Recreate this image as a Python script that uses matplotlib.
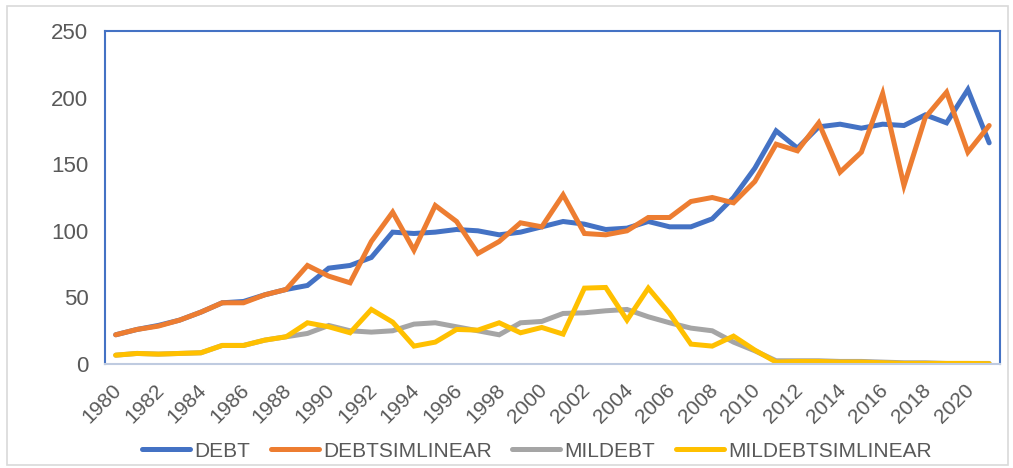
import matplotlib.pyplot as plt
import matplotlib.patches as patches
import matplotlib.transforms as mtransforms
import numpy as np

plt.rcParams['font.family'] = ['Liberation Sans', 'DejaVu Sans']

years = list(range(1980, 2022))

debt = [22, 26, 29, 33, 39, 46, 47, 52, 56, 59, 72, 74, 80, 99, 98, 99,
        101, 100, 97, 99, 103, 107, 105, 101, 102, 107, 103, 103, 109, 125,
        147, 175, 162, 178, 180, 177, 180, 179, 187, 181, 206, 166]
debtsimlinear = [22, 26, 28.5, 33, 39, 46, 46, 52, 56, 74, 66, 61, 92, 114,
                 85.5, 119, 107, 83, 92, 106, 103, 127, 98, 97, 100, 110,
                 110, 122, 125, 121, 137, 165, 160, 181, 144, 159, 203, 134,
                 185, 204, 159, 179]
mildebt = [6.7, 8, 7.5, 8, 8.5, 14, 14, 18, 20.5, 23, 29, 25, 24, 25, 30, 31,
           28, 25, 22, 31, 32, 38, 38.5, 40, 41, 35.5, 31, 27, 25, 16.5,
           10, 2.5, 2.5, 2.5, 2, 2, 1.5, 1, 1, 0.5, 0.5, 0.5]
mildebtsimlinear = [6.7, 8, 7.5, 8, 8.5, 14, 14, 18, 20.5, 31, 28, 23.5, 41,
                    31.5, 13.5, 16.5, 26, 25.5, 31, 23.5, 27.5, 22.5, 57,
                    57.5, 33, 57, 38, 15, 13.5, 21, 10.5, 1.5, 2, 2, 1.5, 1.5,
                    1, 0.5, 0.5, 0.5, 0.5, 0.3]

series = [
    ('DEBT', debt, '#4472C4'),
    ('DEBTSIMLINEAR', debtsimlinear, '#ED7D31'),
    ('MILDEBT', mildebt, '#A5A5A5'),
    ('MILDEBTSIMLINEAR', mildebtsimlinear, '#FFC000'),
]

fig = plt.figure(figsize=(10.13, 4.68), dpi=100)
ax = fig.add_axes([0.1037, 0.222, 0.8833, 0.712])

x = np.arange(len(years))
for name, vals, col in series:
    ax.plot(x, vals, color=col, lw=3.6, label=name,
            solid_joinstyle='miter', solid_capstyle='round')

ax.set_xlim(-0.5, len(years) - 0.5)
ax.set_ylim(0, 250)
ax.set_yticks(range(0, 251, 50))
ax.set_xticks(x[::2])
ax.set_xticklabels([str(y) for y in years[::2]], rotation=45, ha='right',
                   rotation_mode='anchor')
ax.tick_params(length=0, labelcolor='#595959')
ax.tick_params(axis='y', pad=12, labelsize=16)
ax.tick_params(axis='x', pad=12, labelsize=15)

# nudge the rotated year labels a little to the left
shift = mtransforms.ScaledTranslation(-0.04, 0, fig.dpi_scale_trans)
for lbl in ax.get_xticklabels():
    lbl.set_transform(lbl.get_transform() + shift)

for side in ['top', 'left', 'right']:
    ax.spines[side].set_color('#4472C4')
    ax.spines[side].set_linewidth(1.5)
ax.spines['bottom'].set_color('#BFCBE0')
ax.spines['bottom'].set_linewidth(1.5)

fig.legend(loc='center', bbox_to_anchor=(0.53, 0.036), ncol=4, frameon=False,
           fontsize=15, labelcolor='#595959', handlelength=2.3,
           handletextpad=0.2, columnspacing=1.0, borderaxespad=0)

fig.patches.append(patches.Rectangle((0.007, 0.006), 0.988, 0.982,
                                     transform=fig.transFigure, fill=False,
                                     edgecolor='#D9D9D9', lw=1.2))

fig.savefig('out.png', dpi=100)
